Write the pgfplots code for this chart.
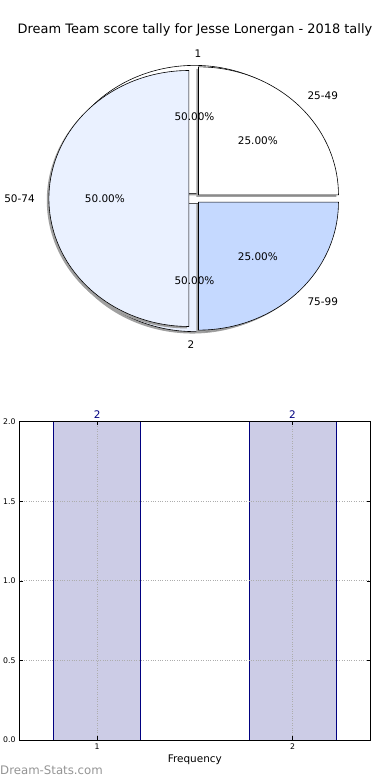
\documentclass[border=0pt]{standalone}
\usepackage{pgfplots}
\pgfplotsset{compat=1.18}
\usepackage{fontspec}
\setmainfont{DejaVu Sans}
\definecolor{pieA}{RGB}{255,255,255}
\definecolor{pieB}{RGB}{234,241,255}
\definecolor{pieC}{RGB}{197,217,255}
\definecolor{barfill}{RGB}{204,204,230}
\definecolor{navyc}{RGB}{0,0,128}
\definecolor{shadowc}{RGB}{160,160,160}
\newcommand{\pieshadow}[4]{% cx, cy, a0, a1
  \addplot[draw=none, fill=shadowc, domain=#3:#4, samples=90, variable=\t]
    ({#1-0.015+cos(\t)},{#2-0.015+sin(\t)}) -- (axis cs:#1-0.015,#2-0.015) -- cycle;
}
\newcommand{\pieslice}[5]{% cx, cy, a0, a1, fill
  \addplot[draw=black, line width=0.6pt, fill=#5, domain=#3:#4, samples=90, variable=\t]
    ({#1+cos(\t)},{#2+sin(\t)}) -- (axis cs:#1,#2) -- cycle;
}
\begin{document}
\begin{tikzpicture}
\path[use as bounding box] (0,0) rectangle (390bp,780bp);
% pie data: outer pie (1, 2) and inner pie (25-49, 50-74, 75-99)
\def\pOne{2}\def\pTwo{2}
\def\pA{1}\def\pB{2}\def\pC{1}
\pgfmathsetmacro{\tOne}{\pOne+\pTwo}
\pgfmathsetmacro{\aOne}{360*\pOne/\tOne}
\pgfmathsetmacro{\tA}{\pA+\pB+\pC}
\pgfmathsetmacro{\aA}{360*\pA/\tA}
\pgfmathsetmacro{\aB}{360*(\pA+\pB)/\tA}
\node[font=\fontsize{13}{15}\selectfont] at (195bp,750bp) {Dream Team score tally for Jesse Lonergan - 2018 tally};
\begin{axis}[at={(54.5bp,453.5bp)}, anchor=south west, scale only axis,
  width=280bp, height=256bp, xmin=-1, xmax=1, ymin=-1, ymax=1,
  hide axis, clip=false]
  % first pie
  \pieshadow{0}{0.04}{0}{\aOne}
  \pieshadow{0}{-0.04}{\aOne}{360}
  \pieslice{0}{0.04}{0}{\aOne}{pieA}
  \pieslice{0}{-0.04}{\aOne}{360}{pieB}
  % second pie
  \pieshadow{0.0283}{0.0283}{0}{\aA}
  \pieshadow{-0.04}{0}{\aA}{\aB}
  \pieshadow{0.0283}{-0.0283}{\aB}{360}
  \pieslice{0.0283}{0.0283}{0}{\aA}{pieA}
  \pieslice{-0.04}{0}{\aA}{\aB}{pieB}
  \pieslice{0.0283}{-0.0283}{\aB}{360}{pieC}
  \begin{scope}[font=\fontsize{10.5}{12}\selectfont]
  \node[anchor=west, inner sep=0pt] at (axis cs:0,1.13) {1};
  \node[anchor=east, inner sep=0pt] at (axis cs:0,-1.14) {2};
  \node[inner sep=0pt] at (axis cs:0,0.64) {50.00\%};
  \node[inner sep=0pt] at (axis cs:0,-0.64) {50.00\%};
  \node[anchor=west, inner sep=0pt] at (axis cs:0.806,0.806) {25-49};
  \node[anchor=east, inner sep=0pt] at (axis cs:-1.14,0) {50-74};
  \node[anchor=west, inner sep=0pt] at (axis cs:0.806,-0.806) {75-99};
  \node[inner sep=0pt] at (axis cs:0.4525,0.4525) {25.00\%};
  \node[inner sep=0pt] at (axis cs:-0.64,0) {50.00\%};
  \node[inner sep=0pt] at (axis cs:0.4525,-0.4525) {25.00\%};
  \end{scope}
\end{axis}
\begin{axis}[at={(19bp,40bp)}, anchor=south west, scale only axis,
  width=351.7bp, height=318.3bp,
  xmin=0.6, xmax=2.4, ymin=0, ymax=2,
  xtick={1,2}, ytick={0,0.5,1,1.5,2},
  yticklabel style={/pgf/number format/.cd, fixed, fixed zerofill, precision=1},
  /pgf/number format/assume math mode=true,
  tick label style={font=\fontsize{7.8}{8}\selectfont},
  tick align=inside, major tick length=3.5bp,
  tick style={black, line width=0.5pt},
  grid=major, major grid style={dotted, black!32, line width=0.8pt},
  axis on top, axis line style={line width=0.8pt},
  xlabel={Frequency},
  xlabel style={font=\fontsize{10.5}{12}\selectfont, at={(axis description cs:0.5,0)}, anchor=center, yshift=-20bp},
  ]
  \addplot[ybar, bar width=87bp, fill=barfill, draw=navyc, line width=0.7pt,
    nodes near coords, nodes near coords style={font=\fontsize{10.5}{12}\selectfont, text=navyc}]
    coordinates {(1,2) (2,2)};
\end{axis}
\node[anchor=base west, inner sep=0pt, text=black!42, font=\fontsize{11.8}{13}\selectfont] at (0bp,5.5bp) {Dream-Stats.com};
\end{tikzpicture}
\end{document}
